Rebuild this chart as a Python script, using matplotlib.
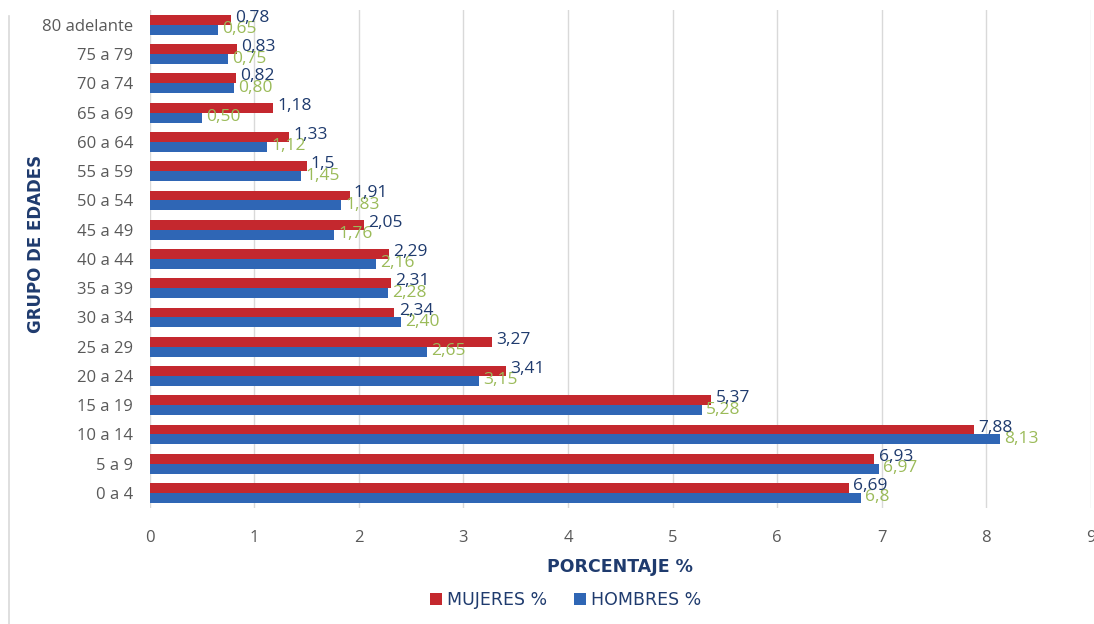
import matplotlib.pyplot as plt
import numpy as np
from matplotlib.lines import Line2D
from matplotlib.patches import Patch

# Datos (porcentaje por grupo de edad)
grupos = ["0 a 4", "5 a 9", "10 a 14", "15 a 19", "20 a 24", "25 a 29",
          "30 a 34", "35 a 39", "40 a 44", "45 a 49", "50 a 54", "55 a 59",
          "60 a 64", "65 a 69", "70 a 74", "75 a 79", "80 adelante"]
mujeres = [6.69, 6.93, 7.88, 5.37, 3.41, 3.27, 2.34, 2.31, 2.29, 2.05,
           1.91, 1.5, 1.33, 1.18, 0.82, 0.83, 0.78]
hombres = [6.8, 6.97, 8.13, 5.28, 3.15, 2.65, 2.40, 2.28, 2.16, 1.76,
           1.83, 1.45, 1.12, 0.50, 0.80, 0.75, 0.65]
etq_mujeres = ["6,69", "6,93", "7,88", "5,37", "3,41", "3,27", "2,34", "2,31",
               "2,29", "2,05", "1,91", "1,5", "1,33", "1,18", "0,82", "0,83", "0,78"]
etq_hombres = ["6,8", "6,97", "8,13", "5,28", "3,15", "2,65", "2,40", "2,28",
               "2,16", "1,76", "1,83", "1,45", "1,12", "0,50", "0,80", "0,75", "0,65"]

COLOR_MUJ = "#C4282E"
COLOR_HOM = "#2F66B5"
COLOR_NAVY = "#1F3B6E"
COLOR_VERDE = "#9BBB59"
COLOR_GRIS = "#595959"

fig = plt.figure(figsize=(10.94, 6.24), dpi=100)
ax = fig.add_axes([0.137, 0.1865, 0.860, 0.797])

y = np.arange(len(grupos))
h = 0.34

ax.barh(y + h / 2, mujeres, height=h, color=COLOR_MUJ, zorder=3)
ax.barh(y - h / 2, hombres, height=h, color=COLOR_HOM, zorder=3)

# etiquetas de datos
for i in range(len(grupos)):
    ax.text(mujeres[i] + 0.04, y[i] + h * 0.7, etq_mujeres[i], color=COLOR_NAVY,
            fontsize=12.5, family="Open Sans", va="center", ha="left", zorder=5)
    ax.text(hombres[i] + 0.04, y[i] - h * 0.45, etq_hombres[i], color=COLOR_VERDE,
            fontsize=12.5, family="Open Sans", va="center", ha="left", zorder=4)

ax.set_xlim(0, 9)
ax.set_ylim(-0.5, len(grupos) - 0.5)
ax.set_xticks(range(0, 10))
ax.set_yticks(y)
ax.set_yticklabels(grupos)

for lab in ax.get_xticklabels():
    lab.set_family("Open Sans")
    lab.set_fontsize(12)
    lab.set_color(COLOR_GRIS)
for lab in ax.get_yticklabels():
    lab.set_family("Open Sans")
    lab.set_fontsize(12)
    lab.set_color(COLOR_GRIS)

ax.tick_params(axis="both", length=0)
ax.tick_params(axis="x", pad=16)
ax.tick_params(axis="y", pad=12)

for s in ax.spines.values():
    s.set_visible(False)

ax.grid(True, axis="x", color="#D9D9D9", linewidth=1.0, zorder=0)
ax.set_axisbelow(True)

ax.set_xlabel("PORCENTAJE %", fontsize=12.5, fontweight="bold", color=COLOR_NAVY,
              labelpad=9)
ax.set_ylabel("GRUPO DE EDADES", fontsize=12, fontweight="bold", color=COLOR_NAVY)
ax.yaxis.set_label_coords(-0.112, 0.53)

handles = [Patch(facecolor=COLOR_MUJ, label="MUJERES %"),
           Patch(facecolor=COLOR_HOM, label="HOMBRES %")]
fig.legend(handles=handles, loc="center", bbox_to_anchor=(0.517, 0.038), ncol=2,
           frameon=False, handlelength=0.7, handleheight=0.7, handletextpad=0.3,
           columnspacing=1.5, prop={"size": 12.5}, labelcolor=COLOR_NAVY)

# borde izquierdo de la imagen
fig.add_artist(Line2D([0.008, 0.008], [0.0, 0.975], color="#D9D9D9", linewidth=1.2))

fig.savefig("out.png", dpi=100)
